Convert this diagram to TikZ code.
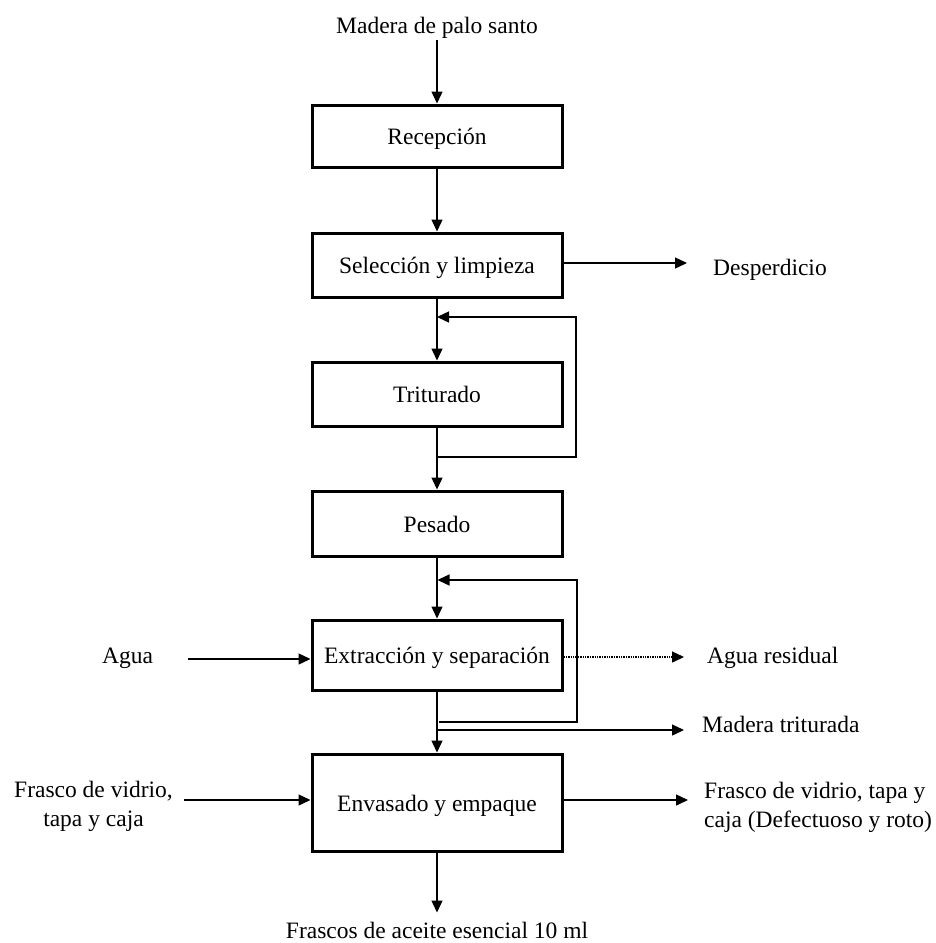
\documentclass[tikz,border=0pt]{standalone}
\usepackage{fontspec}
\setmainfont{Liberation Serif}
\usetikzlibrary{arrows.meta,calc}
\begin{document}
\begin{tikzpicture}[x=1bp,y=-1bp,
  every node/.style={font=\fontsize{23.5bp}{29bp}\selectfont},
  procbox/.style={draw, line width=3bp, minimum width=250bp, inner sep=0pt,
    text height=17bp, text depth=0pt},
  lbl/.style={inner sep=0pt},
  conn/.style={line width=1.4bp},
  arr/.style={conn, -{Triangle[length=12bp,width=11bp]}}]
\useasboundingbox (0,0) rectangle (936,943);
% process boxes
\node[procbox, minimum height=62bp] (rec) at (437,136) {Recepción};
\node[procbox, minimum height=64bp] (sel) at (437,265) {Selección y limpieza};
\node[procbox, minimum height=64bp] (tri) at (437,394) {Triturado};
\node[procbox, minimum height=65bp] (pes) at (437,523.5) {Pesado};
\node[procbox, minimum height=70bp] (ext) at (437,655) {Extracción y separación};
\node[procbox, minimum height=97bp] (env) at (437,802.5) {Envasado y empaque};
% labels
\node[lbl, anchor=base] (mad) at (437,33) {Madera de palo santo};
\node[lbl, anchor=base west] (desp) at (713,275) {Desperdicio};
\node[lbl, anchor=base] (agua) at (127.5,663) {Agua};
\node[lbl, anchor=base west] (ar) at (707,663) {Agua residual};
\node[lbl, anchor=base west] (mt) at (702,732) {Madera triturada};
\node[lbl, anchor=base, align=center] (lf) at (93.5,826) {Frasco de vidrio,\\tapa y caja};
\node[lbl, anchor=base west, align=left] (rf) at (704,827) {Frasco de vidrio, tapa y\\caja (Defectuoso y roto)};
\node[lbl, anchor=base] (fa) at (437,938) {Frascos de aceite esencial 10 ml};
% main flow
\draw[arr, shorten <=2bp] (mad.south) -- (rec.north);
\draw[arr] (rec) -- (sel);
\draw[arr] (sel) -- (tri);
\draw[arr] (tri) -- (pes);
\draw[arr] (pes) -- (ext);
\draw[arr] (ext) -- (env);
\draw[arr, shorten >=9bp] (env.south) -- (fa.north);
% side streams
\coordinate (dsa) at (687,263);
\draw[arr] (dsa -| sel.east) -- (dsa);
% recycle loop 1
\coordinate (l1a) at (437,457);
\coordinate (l1b) at (437,317);
\draw[arr] (l1a) -- ++(139,0) |- (l1b);
% recycle loop 2
\coordinate (l2a) at (439,722);
\coordinate (l2b) at (437.5,580);
\draw[arr] (l2a) -- ++(138,0) |- (l2b);
% water in / out
\coordinate (aga) at (188,659);
\draw[arr] (aga) -- (aga -| ext.west);
\coordinate (ara) at (684,657);
\draw[arr, densely dotted] (ara -| ext.east) -- (ara);
% madera triturada
\coordinate (mta) at (437,730);
\coordinate (mtb) at (684,730);
\draw[arr] (mta) -- (mtb);
% packaging in / out
\coordinate (lfa) at (184,800);
\draw[arr] (lfa) -- (lfa -| env.west);
\coordinate (rfa) at (688,800);
\draw[arr] (rfa -| env.east) -- (rfa);
\end{tikzpicture}
\end{document}
